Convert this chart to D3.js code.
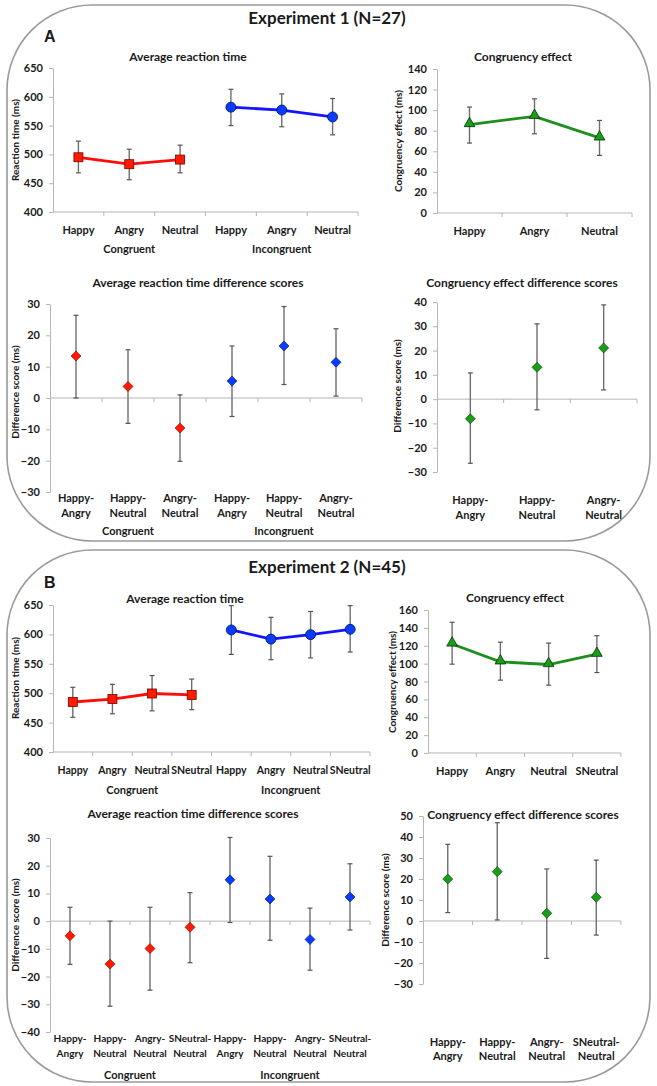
<!DOCTYPE html>
<html>
<head>
<meta charset="utf-8">
<script src="https://cdn.jsdelivr.net/npm/d3@7"></script>
<style>
  body { margin: 0; background: #fff; }
  svg text { font-family: Lato, "Open Sans", sans-serif; font-weight: bold; fill: #1a1a1a; }
</style>
</head>
<body>
<script>
// --- data ---
var expTitles = ['Experiment 1 (N=27)', 'Experiment 2 (N=45)'];
var groupNames = ['Congruent', 'Incongruent'];

// Experiment 1
var e1Cats = ['Happy', 'Angry', 'Neutral', 'Happy', 'Angry', 'Neutral'];
var e1RtCong = [495, 483, 491];
var e1RtCongLo = [468, 456, 468];
var e1RtCongHi = [523, 509, 516];
var e1RtInc = [582, 577, 565];
var e1RtIncLo = [550, 548, 534];
var e1RtIncHi = [613, 605, 597];

var e1CeCats = ['Happy', 'Angry', 'Neutral'];
var e1Ce = [86, 94, 73];
var e1CeLo = [68, 77, 56];
var e1CeHi = [103, 111, 90];

var e1DiffCats = ['Happy-Angry', 'Happy-Neutral', 'Angry-Neutral', 'Happy-Angry', 'Happy-Neutral', 'Angry-Neutral'];
var e1DiffCong = [13.4, 3.7, -9.6];
var e1DiffCongLo = [0, -8.1, -20.2];
var e1DiffCongHi = [26.4, 15.4, 1.0];
var e1DiffInc = [5.4, 16.6, 11.4];
var e1DiffIncLo = [-5.9, 4.3, 0.6];
var e1DiffIncHi = [16.6, 29.2, 22.1];

var e1CeDiffCats = ['Happy-Angry', 'Happy-Neutral', 'Angry-Neutral'];
var e1CeDiff = [-8.1, 13.1, 21.1];
var e1CeDiffLo = [-26.4, -4.4, 3.8];
var e1CeDiffHi = [10.8, 31, 38.8];

// Experiment 2
var e2Cats = ['Happy', 'Angry', 'Neutral', 'SNeutral', 'Happy', 'Angry', 'Neutral', 'SNeutral'];
var e2RtCong = [485, 490, 499.5, 497];
var e2RtCongLo = [459, 465, 470, 472];
var e2RtCongHi = [510, 515, 530, 524];
var e2RtInc = [607.6, 592, 599.6, 608.7];
var e2RtIncLo = [566, 557, 560, 570];
var e2RtIncHi = [649, 629, 639, 649];

var e2CeCats = ['Happy', 'Angry', 'Neutral', 'SNeutral'];
var e2Ce = [122, 102, 99, 110.5];
var e2CeLo = [99.4, 81.5, 75.9, 90];
var e2CeHi = [146.3, 124, 123, 131.3];

var e2DiffCats = ['Happy-Angry', 'Happy-Neutral', 'Angry-Neutral', 'SNeutral-Neutral',
                  'Happy-Angry', 'Happy-Neutral', 'Angry-Neutral', 'SNeutral-Neutral'];
var e2DiffCong = [-5.3, -15.5, -9.9, -2.2];
var e2DiffCongLo = [-15.6, -30.7, -24.9, -15];
var e2DiffCongHi = [5, 0, 5, 10.3];
var e2DiffInc = [14.9, 8, -6.6, 8.7];
var e2DiffIncLo = [-0.5, -6.9, -17.7, -3.2];
var e2DiffIncHi = [30.2, 23.4, 4.7, 20.7];

var e2CeDiffCats = ['Happy-Angry', 'Happy-Neutral', 'Angry-Neutral', 'SNeutral-Neutral'];
var e2CeDiff = [20, 23.5, 3.7, 11.3];
var e2CeDiffLo = [4, 0.5, -17.8, -6.7];
var e2CeDiffHi = [36.5, 46.8, 24.8, 29];

var rtTicks = [400, 450, 500, 550, 600, 650];
var e1CeTicks = [0, 20, 40, 60, 80, 100, 120, 140];
var e2CeTicks = [0, 20, 40, 60, 80, 100, 120, 140, 160];
var e1DiffTicks = [-30, -20, -10, 0, 10, 20, 30];
var e1CeDiffTicks = [-30, -20, -10, 0, 10, 20, 30, 40];
var e2DiffTicks = [-40, -30, -20, -10, 0, 10, 20, 30];
var e2CeDiffTicks = [-30, -20, -10, 0, 10, 20, 30, 40, 50];

// --- drawing ---
var RED = { line: '#ff0d0d', fill: '#ff1a00', stroke: '#7a0000' };
var BLUE = { line: '#1414ff', fill: '#0a3cff', stroke: '#001060' };
var GREEN = { line: '#1e8e1e', fill: '#16a016', stroke: '#0a2a0a' };

var svg = d3.select('body').append('svg')
  .attr('width', 657)
  .attr('height', 1086);

// rounded frames
svg.append('rect').attr('x', 7).attr('y', 5).attr('width', 643).attr('height', 536)
  .attr('rx', 85).attr('fill', 'none').attr('stroke', '#9a9a9a').attr('stroke-width', 1.6);
svg.append('rect').attr('x', 7).attr('y', 550).attr('width', 643).attr('height', 532)
  .attr('rx', 85).attr('fill', 'none').attr('stroke', '#9a9a9a').attr('stroke-width', 1.6);

svg.append('text').attr('x', 327).attr('y', 24).attr('text-anchor', 'middle')
  .style('font-size', '17px').text(expTitles[0]);
svg.append('text').attr('x', 327).attr('y', 573).attr('text-anchor', 'middle')
  .style('font-size', '17px').text(expTitles[1]);
svg.append('text').attr('x', 44).attr('y', 42)
  .style('font-family', 'Liberation Sans, Arial, sans-serif').style('font-size', '16px').text('A');
svg.append('text').attr('x', 44).attr('y', 588)
  .style('font-family', 'Liberation Sans, Arial, sans-serif').style('font-size', '16px').text('B');

function marker(g, shape, cx, cy, col) {
  if (shape === 'square') {
    g.append('rect').attr('x', cx - 4.5).attr('y', cy - 4.5).attr('width', 9).attr('height', 9)
      .attr('fill', col.fill).attr('stroke', col.stroke).attr('stroke-width', 0.8);
  } else if (shape === 'circle') {
    g.append('circle').attr('cx', cx).attr('cy', cy).attr('r', 5)
      .attr('fill', col.fill).attr('stroke', col.stroke).attr('stroke-width', 0.8);
  } else if (shape === 'triangle') {
    g.append('path').attr('d', d3.symbol().type(d3.symbolTriangle).size(50)())
      .attr('transform', 'translate(' + cx + ',' + (cy - 1) + ')')
      .attr('fill', col.fill).attr('stroke', col.stroke).attr('stroke-width', 0.8);
  } else {
    g.append('path').attr('d', 'M0,-5L5,0L0,5L-5,0Z')
      .attr('transform', 'translate(' + cx + ',' + cy + ')')
      .attr('fill', col.fill).attr('stroke', col.stroke).attr('stroke-width', 0.6);
  }
}

function drawPanel(p) {
  var g = svg.append('g');
  var x = d3.scaleBand().domain(d3.range(p.cats.length)).range([p.left, p.right]);
  var y = d3.scaleLinear().domain(p.domain).range([p.bottom, p.top]);
  var labelSize = p.labelSize || '11px';

  // y axis
  var ya = g.append('g')
    .attr('transform', 'translate(' + p.left + ',0)')
    .call(d3.axisLeft(y).tickValues(p.ticks).tickSize(4).tickPadding(6).tickSizeOuter(0));
  ya.select('.domain').attr('stroke', '#b5b5b5');
  ya.selectAll('.tick line').attr('stroke', '#b5b5b5');
  ya.selectAll('.tick text').style('font-size', '11px').style('font-family', 'Lato, sans-serif')
    .style('font-weight', 'bold').attr('fill', '#1a1a1a');

  // x axis line at base value, ticks at band edges
  var y0 = y(p.base);
  g.append('line').attr('x1', p.left).attr('x2', p.right).attr('y1', y0).attr('y2', y0)
    .attr('stroke', '#b5b5b5');
  var edges = d3.range(p.cats.length).map(function(i) { return x(i); }).concat([p.right]);
  g.selectAll('.xt').data(edges.slice(1)).enter().append('line')
    .attr('x1', function(d) { return d; }).attr('x2', function(d) { return d; })
    .attr('y1', y0).attr('y2', y0 + 4).attr('stroke', '#b5b5b5');

  // category labels
  p.cats.forEach(function(c, i) {
    var cx = x(i) + x.bandwidth() / 2;
    var parts = c.indexOf('-') > 0 ? [c.slice(0, c.indexOf('-') + 1), c.slice(c.indexOf('-') + 1)] : [c];
    parts.forEach(function(t, k) {
      g.append('text').attr('x', cx).attr('y', p.labelY[k]).attr('dy', '0.35em')
        .attr('text-anchor', 'middle').style('font-size', labelSize).text(t);
    });
  });

  // group labels
  if (p.groups) {
    var n = p.cats.length / 2;
    p.groups.forEach(function(name, gi) {
      var gx = (x(gi * n) + x(gi * n + n - 1) + x.bandwidth()) / 2;
      g.append('text').attr('x', gx).attr('y', p.groupY).attr('dy', '0.35em')
        .attr('text-anchor', 'middle').style('font-size', '11px').text(name);
    });
  }

  // titles
  g.append('text').attr('x', p.titleX).attr('y', p.titleY).attr('dy', '0.35em')
    .attr('text-anchor', 'middle').style('font-size', '12px').text(p.title);
  g.append('text').attr('transform', 'translate(' + p.yTitleX + ',' + p.yTitleY + ') rotate(-90)')
    .attr('dy', '0.35em').attr('text-anchor', 'middle').style('font-size', '10px').text(p.yTitle);

  // series
  p.series.forEach(function(s) {
    var pts = s.values.map(function(v, i) {
      var idx = s.offset + i;
      return { x: x(idx) + x.bandwidth() / 2, v: v, lo: s.lo[i], hi: s.hi[i] };
    });
    if (s.connect) {
      g.append('path')
        .attr('d', d3.line().x(function(d) { return d.x; }).y(function(d) { return y(d.v); })(pts))
        .attr('fill', 'none').attr('stroke', s.color.line).attr('stroke-width', 2.8);
    }
    pts.forEach(function(d) {
      g.append('line').attr('x1', d.x).attr('x2', d.x).attr('y1', y(d.lo)).attr('y2', y(d.hi))
        .attr('stroke', '#6e6e6e').attr('stroke-width', 1.4);
      [d.lo, d.hi].forEach(function(e) {
        g.append('line').attr('x1', d.x - 2.5).attr('x2', d.x + 2.5).attr('y1', y(e)).attr('y2', y(e))
          .attr('stroke', '#555').attr('stroke-width', 1.2);
      });
    });
    pts.forEach(function(d) { marker(g, s.shape, d.x, y(d.v), s.color); });
  });
}

// Experiment 1 panels
drawPanel({
  cats: e1Cats, left: 53, right: 358, top: 68, bottom: 212, domain: [400, 650], ticks: rtTicks, base: 400,
  labelY: [230], groups: groupNames, groupY: 249,
  title: 'Average reaction time', titleX: 188, titleY: 57,
  yTitle: 'Reaction time (ms)', yTitleX: 15, yTitleY: 140,
  series: [
    { values: e1RtCong, lo: e1RtCongLo, hi: e1RtCongHi, offset: 0, color: RED, shape: 'square', connect: true },
    { values: e1RtInc, lo: e1RtIncLo, hi: e1RtIncHi, offset: 3, color: BLUE, shape: 'circle', connect: true }
  ]
});
drawPanel({
  cats: e1CeCats, left: 437, right: 632, top: 69, bottom: 213, domain: [0, 140], ticks: e1CeTicks, base: 0,
  labelY: [231],
  title: 'Congruency effect', titleX: 523, titleY: 57,
  yTitle: 'Congruency effect (ms)', yTitleX: 398, yTitleY: 141,
  series: [
    { values: e1Ce, lo: e1CeLo, hi: e1CeHi, offset: 0, color: GREEN, shape: 'triangle', connect: true }
  ]
});
drawPanel({
  cats: e1DiffCats, left: 50, right: 362, top: 304, bottom: 492, domain: [-30, 30], ticks: e1DiffTicks, base: 0,
  labelY: [498, 513], groups: groupNames, groupY: 531,
  title: 'Average reaction time difference scores', titleX: 198, titleY: 283,
  yTitle: 'Difference score (ms)', yTitleX: 15, yTitleY: 392,
  series: [
    { values: e1DiffCong, lo: e1DiffCongLo, hi: e1DiffCongHi, offset: 0, color: RED, shape: 'diamond' },
    { values: e1DiffInc, lo: e1DiffIncLo, hi: e1DiffIncHi, offset: 3, color: BLUE, shape: 'diamond' }
  ]
});
drawPanel({
  cats: e1CeDiffCats, left: 437, right: 637, top: 302, bottom: 472, domain: [-30, 40], ticks: e1CeDiffTicks, base: 0,
  labelY: [500, 515],
  title: 'Congruency effect difference scores', titleX: 522, titleY: 283,
  yTitle: 'Difference score (ms)', yTitleX: 397, yTitleY: 386,
  series: [
    { values: e1CeDiff, lo: e1CeDiffLo, hi: e1CeDiffHi, offset: 0, color: GREEN, shape: 'diamond' }
  ]
});

// Experiment 2 panels
drawPanel({
  cats: e2Cats, left: 53, right: 370, top: 605, bottom: 752, domain: [400, 650], ticks: rtTicks, base: 400,
  labelY: [770], labelSize: '10.5px', groups: groupNames, groupY: 790,
  title: 'Average reaction time', titleX: 185, titleY: 599,
  yTitle: 'Reaction time (ms)', yTitleX: 15, yTitleY: 678,
  series: [
    { values: e2RtCong, lo: e2RtCongLo, hi: e2RtCongHi, offset: 0, color: RED, shape: 'square', connect: true },
    { values: e2RtInc, lo: e2RtIncLo, hi: e2RtIncHi, offset: 4, color: BLUE, shape: 'circle', connect: true }
  ]
});
drawPanel({
  cats: e2CeCats, left: 428, right: 621, top: 610, bottom: 753, domain: [0, 160], ticks: e2CeTicks, base: 0,
  labelY: [771],
  title: 'Congruency effect', titleX: 515, titleY: 598,
  yTitle: 'Congruency effect (ms)', yTitleX: 392, yTitleY: 682,
  series: [
    { values: e2Ce, lo: e2CeLo, hi: e2CeHi, offset: 0, color: GREEN, shape: 'triangle', connect: true }
  ]
});
drawPanel({
  cats: e2DiffCats, left: 50, right: 370, top: 838, bottom: 1032, domain: [-40, 30], ticks: e2DiffTicks, base: 0,
  labelY: [1038, 1053], labelSize: '10px', groups: groupNames, groupY: 1075,
  title: 'Average reaction time difference scores', titleX: 193, titleY: 814,
  yTitle: 'Difference score (ms)', yTitleX: 15, yTitleY: 925,
  series: [
    { values: e2DiffCong, lo: e2DiffCongLo, hi: e2DiffCongHi, offset: 0, color: RED, shape: 'diamond' },
    { values: e2DiffInc, lo: e2DiffIncLo, hi: e2DiffIncHi, offset: 4, color: BLUE, shape: 'diamond' }
  ]
});
drawPanel({
  cats: e2CeDiffCats, left: 423, right: 621, top: 816, bottom: 984, domain: [-30, 50], ticks: e2CeDiffTicks, base: 0,
  labelY: [1042, 1056],
  title: 'Congruency effect difference scores', titleX: 523, titleY: 815,
  yTitle: 'Difference score (ms)', yTitleX: 385, yTitleY: 900,
  series: [
    { values: e2CeDiff, lo: e2CeDiffLo, hi: e2CeDiffHi, offset: 0, color: GREEN, shape: 'diamond' }
  ]
});
</script>
</body>
</html>
